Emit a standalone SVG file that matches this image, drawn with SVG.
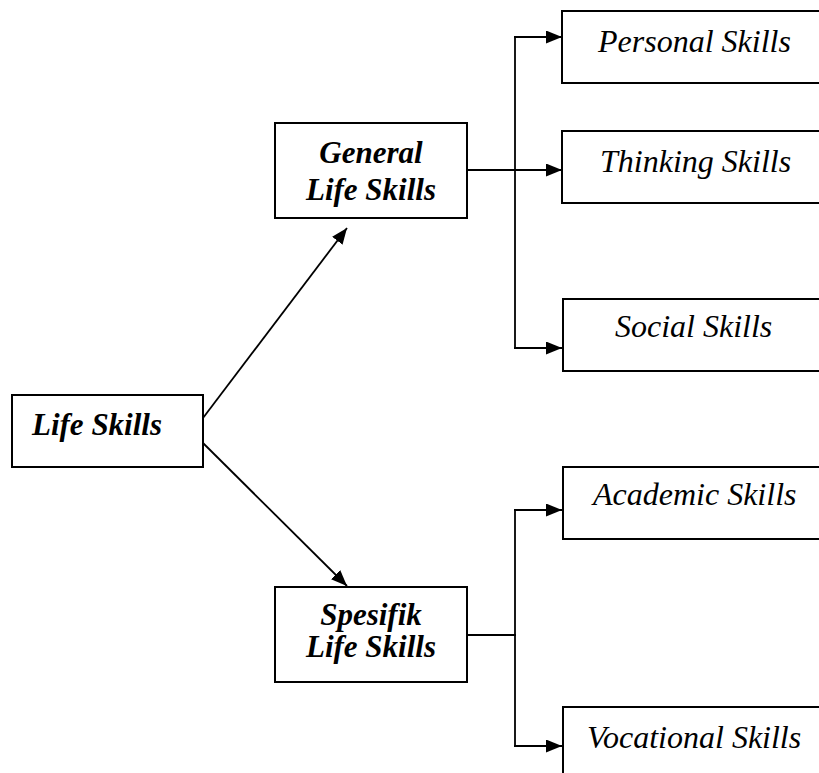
<svg xmlns="http://www.w3.org/2000/svg" width="819" height="773" viewBox="0 0 819 773">
<style>
.box{fill:#fff;stroke:#000;stroke-width:2}
.ln{fill:none;stroke:#000;stroke-width:1.8}
</style>
<defs>
<marker id="ah" viewBox="0 0 16 13" refX="16" refY="6.5" markerWidth="16" markerHeight="13" markerUnits="userSpaceOnUse" orient="auto">
<path d="M0,0 L16,6.5 L0,13 Z" fill="#000"/>
</marker>
</defs>
<g id="connectors">
<line class="ln" x1="203" y1="418" x2="347" y2="228" marker-end="url(#ah)"/>
<line class="ln" x1="203" y1="443" x2="347" y2="586" marker-end="url(#ah)"/>
<line class="ln" x1="467" y1="170" x2="562" y2="170" marker-end="url(#ah)"/>
<polyline class="ln" points="515,37 515,348"/>
<line class="ln" x1="514" y1="37" x2="562" y2="37" marker-end="url(#ah)"/>
<line class="ln" x1="514" y1="348" x2="562" y2="348" marker-end="url(#ah)"/>
<line class="ln" x1="467" y1="635" x2="516" y2="635"/>
<polyline class="ln" points="515,510 515,746"/>
<line class="ln" x1="514" y1="510" x2="562" y2="510" marker-end="url(#ah)"/>
<line class="ln" x1="514" y1="746" x2="562" y2="746" marker-end="url(#ah)"/>
</g>
<g id="life-skills">
<rect class="box" x="12" y="395" width="191" height="72"/>
<text x="32" y="435" font-family="Liberation Serif" font-style="italic" font-weight="bold" font-size="31">Life Skills</text>
</g>
<g id="general-life-skills">
<rect class="box" x="275" y="123" width="192" height="95"/>
<text x="371" y="163" text-anchor="middle" font-family="Liberation Serif" font-style="italic" font-weight="bold" font-size="31">General</text>
<text x="371" y="200" text-anchor="middle" font-family="Liberation Serif" font-style="italic" font-weight="bold" font-size="31">Life Skills</text>
</g>
<g id="spesifik-life-skills">
<rect class="box" x="275" y="587" width="192" height="95"/>
<text x="371" y="625" text-anchor="middle" font-family="Liberation Serif" font-style="italic" font-weight="bold" font-size="31">Spesifik</text>
<text x="371" y="657" text-anchor="middle" font-family="Liberation Serif" font-style="italic" font-weight="bold" font-size="31">Life Skills</text>
</g>
<g id="personal-skills">
<rect class="box" x="562" y="11" width="270" height="72"/>
<text x="598" y="52" font-family="Liberation Serif" font-style="italic" font-size="32">Personal Skills</text>
</g>
<g id="thinking-skills">
<rect class="box" x="562" y="131" width="270" height="72"/>
<text x="600" y="172" font-family="Liberation Serif" font-style="italic" font-size="32">Thinking Skills</text>
</g>
<g id="social-skills">
<rect class="box" x="563" y="299" width="270" height="72"/>
<text x="615" y="337" font-family="Liberation Serif" font-style="italic" font-size="32">Social Skills</text>
</g>
<g id="academic-skills">
<rect class="box" x="563" y="467" width="270" height="72"/>
<text x="593" y="505" font-family="Liberation Serif" font-style="italic" font-size="32">Academic Skills</text>
</g>
<g id="vocational-skills">
<rect class="box" x="563" y="707" width="270" height="80"/>
<text x="587" y="748" font-family="Liberation Serif" font-style="italic" font-size="32">Vocational Skills</text>
</g>
</svg>
